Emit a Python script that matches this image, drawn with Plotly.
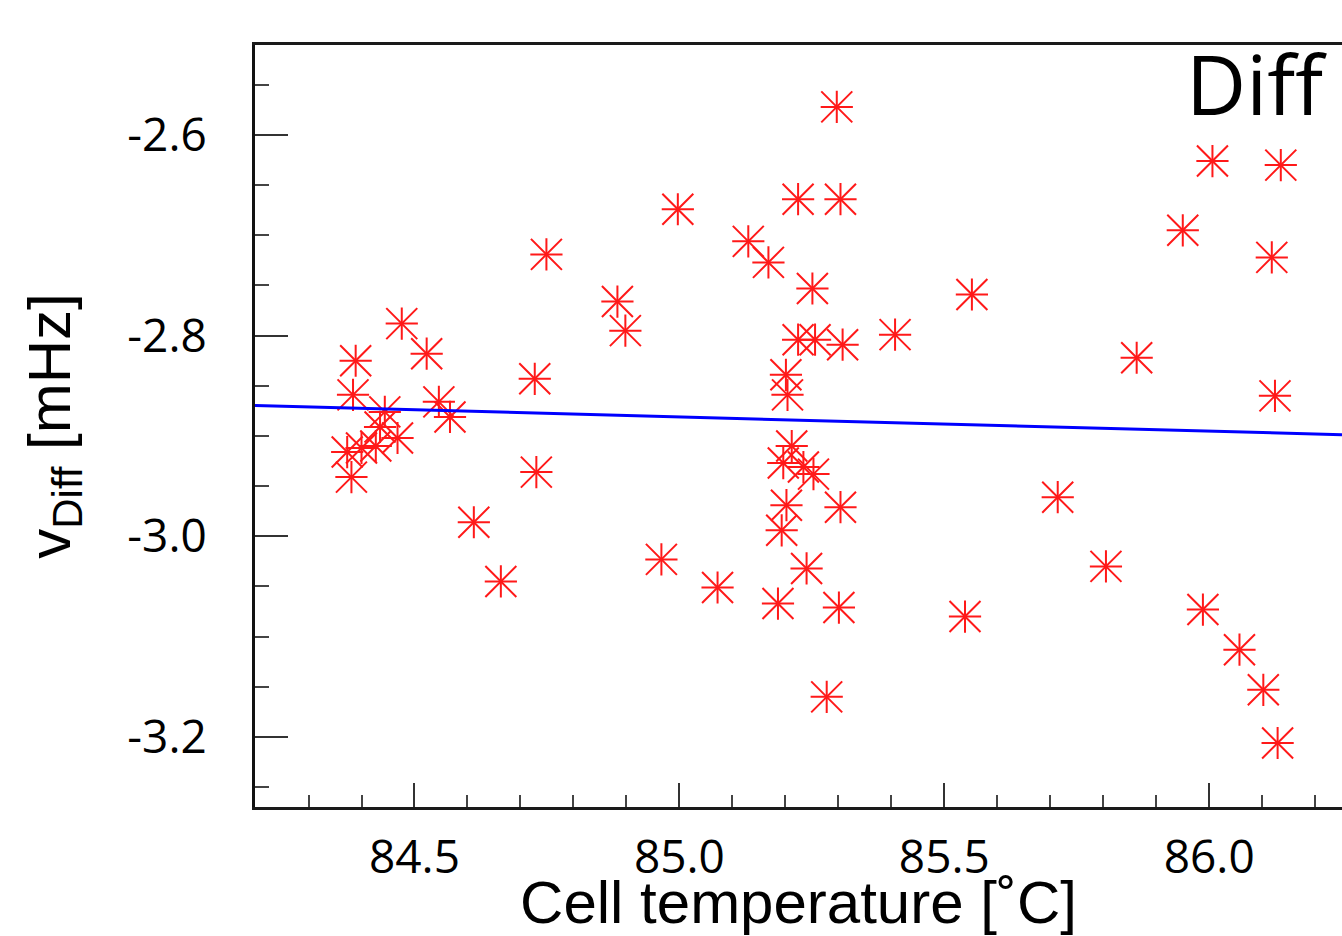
import plotly.graph_objects as go

# Cell temperature [°C]
temp_c = [
    84.389, 84.523, 84.384, 84.546, 84.444, 84.567, 84.435, 84.468, 84.427, 84.400,
    84.373, 84.381, 84.476, 84.749, 84.727, 84.730, 84.612, 84.663, 84.883, 84.898,
    84.966, 84.997, 85.072, 85.130, 85.168, 85.224, 85.304, 85.297, 85.251, 85.224,
    85.256, 85.308, 85.407, 85.201, 85.204, 85.212, 85.196, 85.234, 85.253, 85.202,
    85.304, 85.193, 85.240, 85.186, 85.301, 85.278, 85.552, 85.539, 85.714, 85.863,
    85.805, 85.950, 86.006, 86.135, 86.118, 86.124, 85.988, 86.057, 86.102, 86.129,
]
# v_Diff [mHz]
v_diff = [
    -2.825, -2.818, -2.859, -2.866, -2.876, -2.881, -2.891, -2.902, -2.910, -2.912,
    -2.916, -2.941, -2.788, -2.719, -2.843, -2.936, -2.986, -3.045, -2.766, -2.795,
    -3.023, -2.674, -3.051, -2.706, -2.727, -2.664, -2.664, -2.572, -2.753, -2.804,
    -2.804, -2.809, -2.799, -2.839, -2.859, -2.910, -2.927, -2.931, -2.938, -2.969,
    -2.971, -2.994, -3.032, -3.067, -3.071, -3.160, -2.759, -3.080, -2.961, -2.822,
    -3.030, -2.695, -2.626, -2.630, -2.722, -2.860, -3.073, -3.113, -3.153, -3.206,
]

# linear fit: v = fit_v85 + fit_slope * (T - 85)
fit_v85 = -2.881
fit_slope = -0.0142

x_range = [84.199, 86.2505]
y_range = [-3.2698, -2.5103]

x_tickvals = [84.5, 85.0, 85.5, 86.0]
x_ticktext = ["84.5", "85.0", "85.5", "86.0"]
y_tickvals = [-3.2, -3.0, -2.8, -2.6]
y_ticktext = ["-3.2", "-3.0", "-2.8", "-2.6"]

fit_x = [x_range[0], x_range[1]]
fit_y = [fit_v85 + fit_slope * (t - 85.0) for t in fit_x]

red = "rgb(255,25,25)"

fig = go.Figure()
fig.add_trace(go.Scatter(
    x=temp_c, y=v_diff, mode="markers",
    marker=dict(symbol="x-thin-open", size=31, color=red, line=dict(color=red, width=2)),
    hoverinfo="skip", showlegend=False, cliponaxis=True,
))
fig.add_trace(go.Scatter(
    x=temp_c, y=v_diff, mode="markers",
    marker=dict(symbol="cross-thin-open", size=23, color=red, line=dict(color=red, width=2)),
    hoverinfo="skip", showlegend=False, cliponaxis=True,
))
fig.add_trace(go.Scatter(
    x=fit_x, y=fit_y, mode="lines",
    line=dict(color="#0000ff", width=3),
    hoverinfo="skip", showlegend=False,
))

tick_font = dict(family="Open Sans, Noto Sans, sans-serif", size=46, color="black")
title_font = dict(family="Liberation Sans, Arial, sans-serif", size=60, color="black")

fig.update_layout(
    width=1342, height=936,
    margin=dict(l=255, r=0, t=45, b=129, autoexpand=False),
    paper_bgcolor="white", plot_bgcolor="white",
    xaxis=dict(
        range=x_range, showgrid=False, zeroline=False, automargin=False,
        showline=True, linecolor="#1a1a1a", linewidth=3, mirror=True,
        ticks="inside", ticklen=24, tickwidth=2, tickcolor="#333",
        tickvals=x_tickvals, ticktext=x_ticktext, tickfont=tick_font,
        ticklabelstandoff=8,
        minor=dict(ticks="inside", ticklen=12, tickwidth=2, tickcolor="#444", dtick=0.1, tick0=84.5, showgrid=False),
        title=dict(text="Cell temperature [˚C]", font=title_font, standoff=22),
    ),
    yaxis=dict(
        range=y_range, showgrid=False, zeroline=False, automargin=False,
        showline=True, linecolor="#111", linewidth=3, mirror=False,
        ticks="inside", ticklen=33, tickwidth=2, tickcolor="#333",
        tickvals=y_tickvals, ticktext=y_ticktext, tickfont=tick_font,
        ticklabelstandoff=36,
        minor=dict(ticks="inside", ticklen=14, tickwidth=2, tickcolor="#444", dtick=0.05, tick0=-2.6, showgrid=False),
        title=dict(text="v<sub>Diff</sub> [mHz]", font=dict(family="Liberation Sans, Arial, sans-serif", size=60, color="black"), standoff=38),
    ),
    annotations=[dict(
        text="Diff", xref="paper", yref="paper", x=0.988, y=1.028,
        xanchor="right", yanchor="top", showarrow=False,
        font=dict(family="Open Sans, Noto Sans, sans-serif", size=83, color="black"),
    )],
)

fig.write_html(
    "out.html",
    config={"displayModeBar": False},
    post_script="document.body.style.margin='0';document.body.style.overflow='hidden';",
)
